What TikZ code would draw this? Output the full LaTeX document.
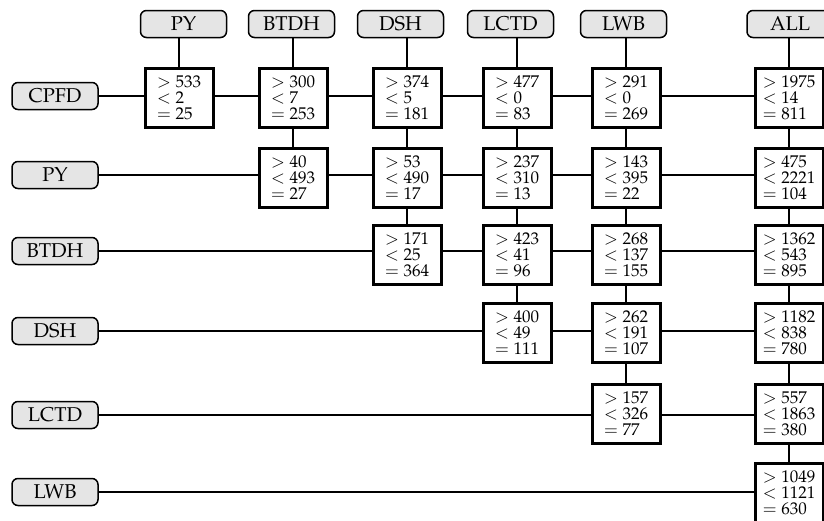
\documentclass[tikz,border=0pt]{standalone}
\usepackage[T1]{fontenc}
\usepackage{mathpazo}
\usetikzlibrary{backgrounds}

\begin{document}
\begin{tikzpicture}[x=0.5pt,y=-0.5pt,
    tag/.style={draw, line width=0.75pt, rounded corners=3pt, fill=black!10,
        minimum width=43pt, minimum height=13.5pt, inner sep=0pt,
        font=\fontsize{10}{12}\selectfont},
    cnt/.style={draw, line width=1.5pt, fill=white, minimum width=34pt,
        inner sep=0pt, minimum height=29.5pt, align=left,
        font=\fontsize{8.5}{8}\selectfont},
    link/.style={line width=1.2pt}]
    \useasboundingbox (0,0) rectangle (824,520);

    % column heads
    \node[tag] (hPY) at (183.5,24) {PY};
    \node[tag] (hBTDH) at (291.5,24) {BTDH};
    \node[tag] (hDSH) at (400.5,24) {DSH};
    \node[tag] (hLCTD) at (510.5,24) {LCTD};
    \node[tag] (hLWB) at (623.5,24) {LWB};
    \node[tag] (hALL) at (790,24) {ALL};

    % row heads
    \node[tag] (rCPFD) at (55,96) {CPFD};
    \node[tag] (rPY) at (55,175) {PY};
    \node[tag] (rBTDH) at (55,251) {BTDH};
    \node[tag] (rDSH) at (55,331) {DSH};
    \node[tag] (rLCTD) at (55,415) {LCTD};
    \node[tag] (rLWB) at (55,492) {LWB};

    % CPFD
    \node[cnt] (cpfdpy) at (179,97.5) {$>533$\\$<2$\\$=25$};
    \node[cnt] (cpfdbtdh) at (293,97.5) {$>300$\\$<7$\\$=253$};
    \node[cnt] (cpfddsh) at (407,97.5) {$>374$\\$<5$\\$=181$};
    \node[cnt] (cpfdlctd) at (517,97.5) {$>477$\\$<0$\\$=83$};
    \node[cnt] (cpfdlwb) at (626,97.5) {$>291$\\$<0$\\$=269$};
    \node[cnt] (cpfdall) at (789,97.5) {$>1975$\\$<14$\\$=811$};
    % PY
    \node[cnt] (pybtdh) at (293,177.5) {$>40$\\$<493$\\$=27$};
    \node[cnt] (pydsh) at (407,177.5) {$>53$\\$<490$\\$=17$};
    \node[cnt] (pylctd) at (517,177.5) {$>237$\\$<310$\\$=13$};
    \node[cnt] (pylwb) at (626,177.5) {$>143$\\$<395$\\$=22$};
    \node[cnt] (pyall) at (789,177.5) {$>475$\\$<2221$\\$=104$};
    % BTDH
    \node[cnt] (btdhdsh) at (407,255) {$>171$\\$<25$\\$=364$};
    \node[cnt] (btdhlctd) at (517,255) {$>423$\\$<41$\\$=96$};
    \node[cnt] (btdhlwb) at (626,255) {$>268$\\$<137$\\$=155$};
    \node[cnt] (btdhall) at (789,255) {$>1362$\\$<543$\\$=895$};
    % DSH
    \node[cnt] (dshlctd) at (517,332.5) {$>400$\\$<49$\\$=111$};
    \node[cnt] (dshlwb) at (626,332.5) {$>262$\\$<191$\\$=107$};
    \node[cnt] (dshall) at (789,332.5) {$>1182$\\$<838$\\$=780$};
    % LCTD
    \node[cnt] (lctdlwb) at (626,413.5) {$>157$\\$<326$\\$=77$};
    \node[cnt] (lctdall) at (789,413.5) {$>557$\\$<1863$\\$=380$};
    % LWB
    \node[cnt] (lwball) at (789,492.5) {$>1049$\\$<1121$\\$=630$};

    \begin{scope}[on background layer]
        % rows
        \draw[link] (rCPFD.east) -- (rCPFD.east -| cpfdall.center);
        \draw[link] (rPY.east) -- (rPY.east -| pyall.center);
        \draw[link] (rBTDH.east) -- (rBTDH.east -| btdhall.center);
        \draw[link] (rDSH.east) -- (rDSH.east -| dshall.center);
        \draw[link] (rLCTD.east) -- (rLCTD.east -| lctdall.center);
        \draw[link] (rLWB.east) -- (rLWB.east -| lwball.center);
        % columns
        \draw[link] (cpfdpy.center |- hPY.south) -- (cpfdpy.center);
        \draw[link] (cpfdbtdh.center |- hBTDH.south) -- (pybtdh.center);
        \draw[link] (cpfddsh.center |- hDSH.south) -- (btdhdsh.center);
        \draw[link] (cpfdlctd.center |- hLCTD.south) -- (dshlctd.center);
        \draw[link] (cpfdlwb.center |- hLWB.south) -- (lctdlwb.center);
        \draw[link] (cpfdall.center |- hALL.south) -- (lwball.center);
    \end{scope}
\end{tikzpicture}
\end{document}
